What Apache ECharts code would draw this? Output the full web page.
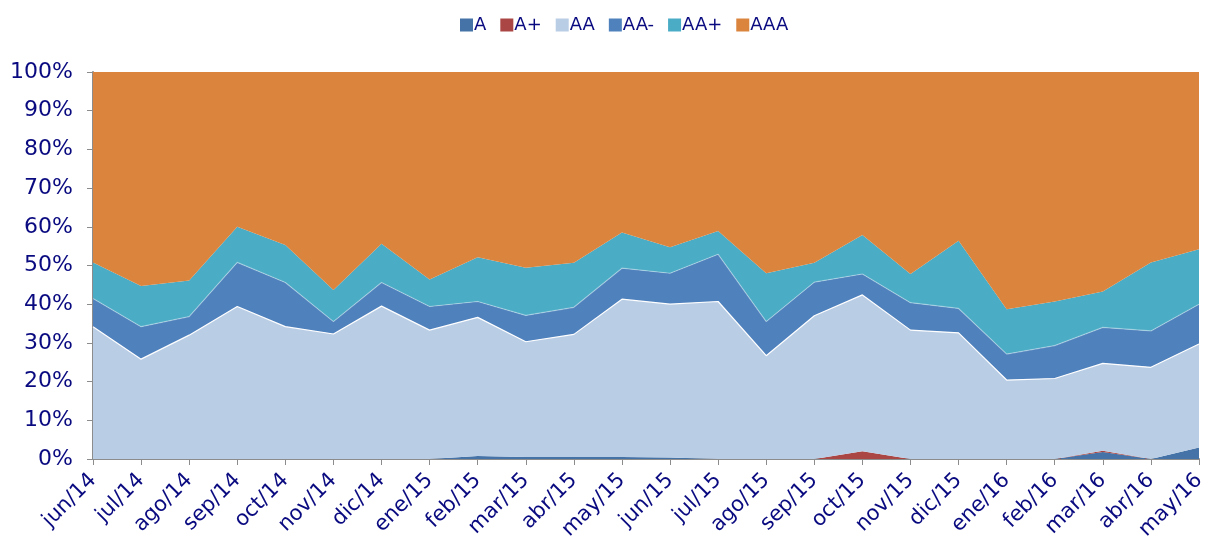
<style>body { margin: 0; }</style>
<div id="chart" style="width: 1206px; height: 546px;"></div>
<script src="https://cdn.jsdelivr.net/npm/echarts@6/dist/echarts.min.js"></script>
<script>
const chart = echarts.init(document.getElementById('chart'));

const categories = ['jun/14', 'jul/14', 'ago/14', 'sep/14', 'oct/14', 'nov/14', 'dic/14', 'ene/15',
  'feb/15', 'mar/15', 'abr/15', 'may/15', 'jun/15', 'jul/15', 'ago/15', 'sep/15', 'oct/15',
  'nov/15', 'dic/15', 'ene/16', 'feb/16', 'mar/16', 'abr/16', 'may/16'];

// porcentajes por calificación (suman 100 por mes)
const valA    = [0, 0, 0, 0, 0, 0, 0, 0, 0.8, 0.5, 0.5, 0.5, 0.4, 0, 0, 0, 0, 0, 0, 0, 0, 1.8, 0, 3.0];
const valAp   = [0, 0, 0, 0, 0, 0, 0, 0, 0, 0, 0, 0, 0, 0, 0, 0, 2.0, 0, 0, 0, 0, 0.3, 0, 0];
const valAA   = [34.2, 25.8, 32.0, 39.4, 34.2, 32.3, 39.5, 33.3, 35.8, 29.8, 31.7, 40.8, 39.6, 40.7,
  26.7, 37.0, 40.4, 33.3, 32.6, 20.4, 20.8, 22.6, 23.7, 26.7];
const valAAm  = [7.3, 8.4, 4.8, 11.4, 11.4, 3.2, 6.1, 6.1, 4.1, 6.8, 7.0, 8.0, 8.0, 12.2, 8.8, 8.7,
  5.4, 7.1, 6.3, 6.7, 8.5, 9.3, 9.4, 10.3];
const valAAp  = [9.3, 10.5, 9.3, 9.2, 9.7, 8.2, 10.0, 7.0, 11.4, 12.3, 11.5, 9.2, 6.7, 6.0, 12.5,
  5.0, 10.1, 7.4, 17.5, 11.6, 11.4, 9.3, 17.7, 14.2];
const valAAA  = [49.2, 55.3, 53.9, 40.0, 44.7, 56.3, 44.4, 53.6, 47.9, 50.6, 49.3, 41.5, 45.3, 41.1,
  52.0, 49.3, 42.1, 52.2, 43.6, 61.3, 59.3, 56.7, 49.2, 45.8];

const yTicks = [0, 10, 20, 30, 40, 50, 60, 70, 80, 90, 100];

const txt = '#0a0a80';
const font = 'DejaVu Sans';

function area(name, data, color, lineColor) {
  return {
    name: name,
    type: 'line',
    stack: 'total',
    data: data,
    symbol: 'none',
    itemStyle: { color: color },
    areaStyle: { color: color, opacity: 1 },
    lineStyle: lineColor ? { color: lineColor, width: 1.2 } : { width: 0 }
  };
}

const option = {
  animation: false,
  textStyle: { fontFamily: font },
  legend: {
    top: 11,
    left: 455,
    itemWidth: 13,
    itemHeight: 13,
    itemGap: 14,
    icon: 'rect',
    textStyle: { color: txt, fontSize: 18, fontFamily: font, padding: [0, 0, 0, -4] },
    data: ['A', 'A+', 'AA', 'AA-', 'AA+', 'AAA']
  },
  grid: { left: 93, right: 7, top: 72, bottom: 87, outerBoundsMode: 'none', containLabel: false },
  xAxis: {
    type: 'category',
    boundaryGap: false,
    data: categories,
    axisLine: { lineStyle: { color: '#8c8c8c', width: 2 } },
    axisTick: { alignWithLabel: true, length: 6, lineStyle: { color: '#8c8c8c' } },
    axisLabel: { rotate: 45, color: txt, fontSize: 21, fontFamily: font, margin: 18, interval: 0 }
  },
  yAxis: {
    type: 'value',
    min: yTicks[0],
    max: yTicks[yTicks.length - 1],
    interval: 10,
    axisLine: { show: true, lineStyle: { color: '#8c8c8c', width: 2 } },
    axisTick: { show: true, length: 6, lineStyle: { color: '#8c8c8c' } },
    splitLine: { show: false },
    axisLabel: { color: txt, fontSize: 22, fontFamily: font, margin: 20, formatter: '{value}%' }
  },
  series: [
    area('A', valA, '#4572a7'),
    area('A+', valAp, '#aa4643'),
    area('AA', valAA, '#b9cde5', '#ffffff'),
    area('AA-', valAAm, '#4f81bd', 'rgba(255,255,255,0.35)'),
    area('AA+', valAAp, '#4bacc6'),
    area('AAA', valAAA, '#db843d')
  ]
};

chart.setOption(option);
</script>
